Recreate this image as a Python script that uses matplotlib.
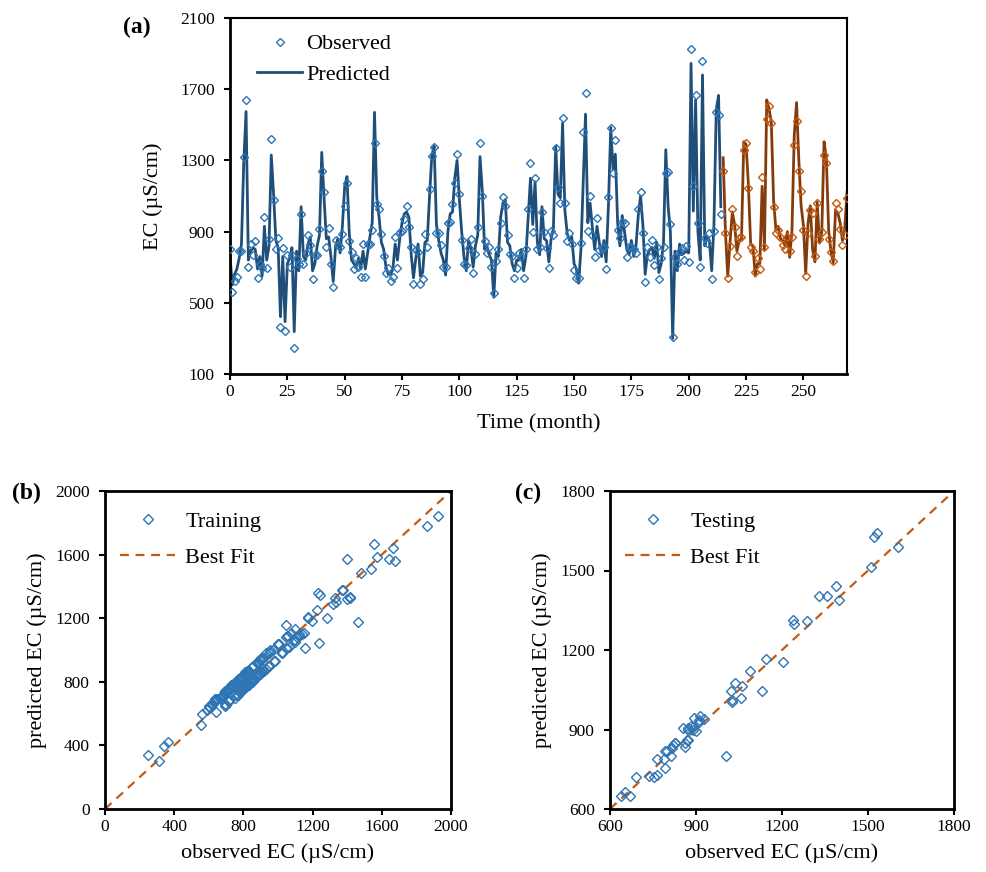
import matplotlib
matplotlib.use('Agg')
import matplotlib.pyplot as plt
import numpy as np
from matplotlib.lines import Line2D

plt.rcParams['font.family'] = ['Liberation Serif', 'DejaVu Serif']

# ---------------- data ----------------
obs_train = [
    804, 560, 620, 647, 793, 793, 1317, 1639, 703, 828,
    767, 847, 637, 718, 693, 980, 693, 860, 1418, 1076,
    804, 862, 366, 806, 343, 768, 703, 768, 248, 744,
    718, 999, 718, 778, 881, 823, 632, 768, 768, 916,
    1242, 1124, 812, 918, 718, 591, 853, 825, 815, 887,
    1044, 1175, 849, 784, 688, 750, 703, 647, 830, 647,
    830, 830, 909, 1400, 1053, 1025, 887, 763, 666, 693,
    624, 643, 872, 697, 900, 903, 969, 1044, 928, 812,
    604, 799, 787, 604, 632, 887, 812, 1137, 1327, 1373,
    894, 894, 823, 699, 699, 946, 956, 1053, 1175, 1334,
    1110, 853, 716, 712, 806, 856, 666, 772, 928, 1400,
    1100, 847, 778, 812, 703, 557, 737, 800, 946, 1092,
    1044, 881, 774, 763, 637, 693, 778, 759, 637, 802,
    1025, 1283, 900, 1199, 800, 812, 1008, 900, 806, 693,
    905, 881, 1368, 1152, 1058, 1540, 1062, 849, 894, 828,
    684, 637, 640, 838, 1461, 1677, 905, 1100, 883, 759,
    975, 797, 806, 812, 688, 1096, 1480, 1227, 1414, 909,
    862, 956, 946, 755, 815, 812, 800, 778, 1025, 1124,
    894, 619, 812, 759, 853, 712, 812, 632, 750, 815,
    1231, 1237, 941, 310, 755, 718, 793, 806, 740, 819,
    731, 1926, 1158, 1667, 946, 703, 1860, 862, 834, 890,
    632, 903, 1574, 1555, 999,
]
pred_train = [
    760, 600, 660, 690, 750, 830, 1290, 1574, 740, 790,
    810, 800, 690, 760, 650, 930, 740, 820, 1330, 1110,
    850, 810, 422, 760, 394, 720, 750, 810, 338, 790,
    680, 1040, 760, 740, 830, 870, 680, 720, 820, 880,
    1345, 1090, 860, 870, 760, 620, 810, 860, 780, 930,
    1155, 1209, 890, 740, 720, 700, 750, 690, 790, 690,
    780, 870, 950, 1570, 1090, 980, 840, 800, 700, 660,
    660, 690, 830, 740, 860, 950, 1000, 1010, 980, 770,
    640, 750, 830, 650, 670, 840, 850, 1100, 1330, 1380,
    940, 850, 780, 740, 656, 900, 1000, 1010, 1200, 1300,
    1080, 900, 760, 680, 850, 810, 700, 820, 880, 1321,
    1130, 800, 820, 770, 740, 531, 780, 760, 980, 1060,
    1080, 840, 820, 720, 680, 740, 740, 800, 680, 760,
    980, 1200, 940, 1180, 840, 770, 1040, 860, 850, 730,
    860, 920, 1380, 1110, 1090, 1510, 1020, 890, 850, 870,
    720, 690, 610, 800, 1175, 1560, 950, 1060, 920, 800,
    930, 840, 760, 850, 730, 1050, 1485, 1250, 1335, 950,
    820, 990, 900, 800, 770, 850, 760, 820, 990, 1100,
    940, 660, 770, 800, 810, 750, 840, 670, 720, 840,
    1360, 1045, 900, 300, 790, 680, 830, 770, 780, 790,
    780, 1845, 1015, 1640, 900, 740, 1780, 820, 870, 850,
    680, 940, 1585, 1665, 1040,
]
obs_test = [
    1240, 890, 637, 819, 1027, 928, 765, 862, 868, 1358,
    1400, 1143, 815, 793, 671, 753, 692, 1205, 812, 1531,
    1606, 1512, 1036, 890, 909, 872, 825, 800, 872, 793,
    872, 1387, 1521, 1242, 1130, 909, 652, 894, 1021, 1003,
    763, 1062, 860, 900, 1330, 1287, 856, 787, 737, 1058,
    1025, 914, 825, 881, 1090,
]
pred_test = [
    1315, 900, 650, 840, 1010, 940, 790, 850, 860, 1405,
    1390, 1165, 830, 820, 650, 720, 720, 1155, 800, 1640,
    1590, 1515, 1075, 910, 930, 860, 850, 820, 900, 755,
    905, 1440, 1625, 1300, 1045, 935, 665, 945, 1045, 800,
    730, 1065, 835, 895, 1405, 1310, 905, 790, 725, 1020,
    1005, 950, 850, 915, 1120,
]

x_ticks_a = [0, 25, 50, 75, 100, 125, 150, 175, 200, 225, 250]
y_ticks_a = [100, 500, 900, 1300, 1700, 2100]
ticks_b = [0, 400, 800, 1200, 1600, 2000]
ticks_c = [600, 900, 1200, 1500, 1800]

# ---------------- styles ----------------
BLUE_M = '#2E75B6'
BLUE_L = '#1F4E79'
ORANGE_M = '#C55A11'
ORANGE_L = '#843C0C'
FIT = '#C55A11'

months_train = np.arange(len(obs_train))
months_test = np.arange(len(obs_train), len(obs_train) + len(obs_test))

W, H = 986, 872
fig = plt.figure(figsize=(W / 100, H / 100), dpi=100)


def box(l, t, r, b):
    return [l / W, 1 - b / H, (r - l) / W, (b - t) / H]


def style_axes(ax, lw_main=2.0, lw_other=1.5):
    for s in ['left', 'bottom']:
        ax.spines[s].set_linewidth(lw_main)
    for s in ['top', 'right']:
        ax.spines[s].set_linewidth(lw_other)
    ax.tick_params(direction='out', length=4, width=1.5, labelsize=12.5,
                   top=False, right=False)
    ax.tick_params(axis='y', pad=7)


# ---------------- panel (a) ----------------
axA = fig.add_axes(box(230, 18, 847, 374))
axA.plot(months_train, pred_train, color=BLUE_L, lw=2.0, zorder=2)
axA.plot(months_train, obs_train, ls='none', marker='D', ms=3.6,
         mfc='none', mec=BLUE_M, mew=1.0, zorder=3)
axA.plot(months_test, pred_test, color=ORANGE_L, lw=2.0, zorder=2)
axA.plot(months_test, obs_test, ls='none', marker='D', ms=3.6,
         mfc='none', mec=ORANGE_M, mew=1.0, zorder=3)
axA.set_xlim(0, 269)
axA.set_ylim(100, 2100)
axA.set_xticks(x_ticks_a)
axA.set_yticks(y_ticks_a)
style_axes(axA)
axA.set_xlabel('Time (month)', fontsize=16, labelpad=10)
axA.set_ylabel('EC (µS/cm)', fontsize=16, labelpad=12)
hA = [Line2D([], [], ls='none', marker='D', ms=3.6, mfc='none', mec=BLUE_M, mew=1.0),
      Line2D([], [], color=BLUE_L, lw=2.0)]
axA.legend(hA, ['Observed', 'Predicted'], loc='upper left',
           bbox_to_anchor=(0.012, 1.012), frameon=False, fontsize=16,
           handlelength=2.0, handletextpad=0.2, labelspacing=0.45)
fig.text(123 / W, 1 - 27 / H, '(a)', fontsize=17, fontweight='bold', va='center')


# ---------------- panels (b), (c) ----------------
def scatter_panel(ax, xo, yp, lim, ticks, label):
    ax.plot(lim, lim, ls=(0, (4, 3)), color=FIT, lw=1.6, zorder=2)
    ax.plot(xo, yp, ls='none', marker='D', ms=5.6, mfc='none',
            mec=BLUE_M, mew=1.0, zorder=3)
    ax.set_xlim(*lim)
    ax.set_ylim(*lim)
    ax.set_xticks(ticks)
    ax.set_yticks(ticks)
    style_axes(ax, 2.0, 2.0)
    ax.set_xlabel('observed EC (µS/cm)', fontsize=16, labelpad=6)
    ax.set_ylabel('predicted EC (µS/cm)', fontsize=16, labelpad=6)
    h = [Line2D([], [], ls='none', marker='D', ms=5.6, mfc='none', mec=BLUE_M, mew=1.0),
         Line2D([], [], ls=(0, (4, 3)), color=FIT, lw=1.6)]
    ax.legend(h, [label, 'Best Fit'], loc='upper left', bbox_to_anchor=(-0.015, 1.0),
              frameon=False, fontsize=16, handlelength=2.5, handletextpad=0.45,
              labelspacing=0.7)


axB = fig.add_axes(box(105, 491, 451, 809))
scatter_panel(axB, obs_train, pred_train, (0, 2000), ticks_b, 'Training')
fig.text(12 / W, 1 - 493 / H, '(b)', fontsize=17, fontweight='bold', va='center')

axC = fig.add_axes(box(610, 491, 954, 809))
scatter_panel(axC, obs_test, pred_test, (600, 1800), ticks_c, 'Testing')
fig.text(515 / W, 1 - 493 / H, '(c)', fontsize=17, fontweight='bold', va='center')

fig.savefig('out.png', dpi=100)
